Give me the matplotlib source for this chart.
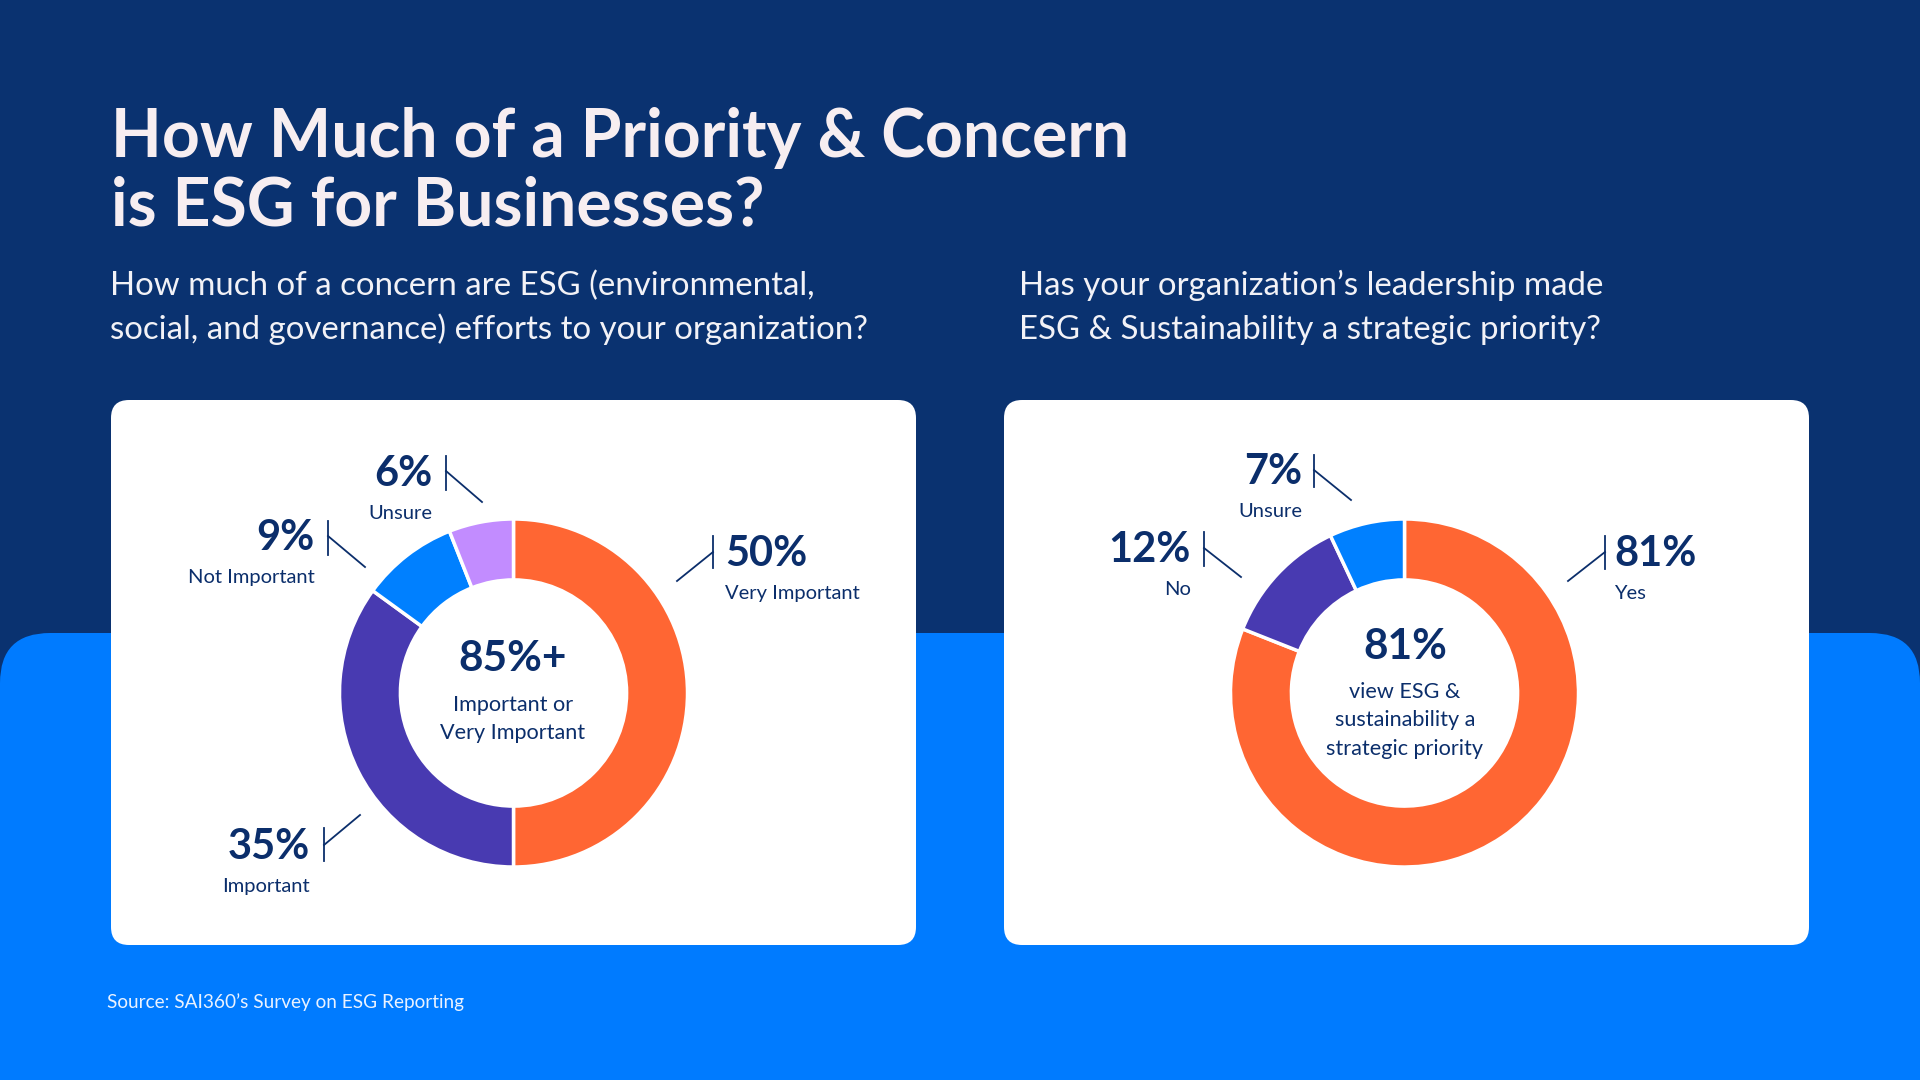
import matplotlib.pyplot as plt
from matplotlib.patches import FancyBboxPatch

plt.rcParams['font.family'] = ['Lato', 'DejaVu Sans']

# Data
concern_labels = ['Very Important', 'Important', 'Not Important', 'Unsure']
concern_values = [50, 35, 9, 6]
priority_labels = ['Yes', 'No', 'Unsure']
priority_values = [81, 12, 7]

title_lines = ['How Much of a Priority & Concern', 'is ESG for Businesses?']
q1_lines = ['How much of a concern are ESG (environmental,',
            'social, and governance) efforts to your organization?']
q2_lines = ['Has your organization’s leadership made',
            'ESG & Sustainability a strategic priority?']
center1_lines = ['Important or', 'Very Important']
center2_lines = ['view ESG &', 'sustainability a', 'strategic priority']
source_text = 'Source: SAI360’s Survey on ESG Reporting'

# Styles
NAVY_BG = '#0A3270'
BLUE_BG = '#007BFF'
TEXT = '#0B2E6B'
TITLE_C = '#F7EEF1'
concern_colors = ['#FF6633', '#483AB1', '#0080FF', '#C28CFF']
priority_colors = ['#FF6633', '#483AB1', '#0080FF']

# label layout (pixels): text x, pct baseline, align, bar x, bar top, bar bottom, join y, end x, end y
concern_layout = [
    (725, 566, 'left', 713, 536, 568, 552, 677, 581),
    (310, 859, 'right', 324, 828, 861, 845, 360, 815),
    (315, 550, 'right', 328, 521, 555, 536, 365, 567),
    (432, 486, 'right', 446, 456, 490, 471, 482, 502),
]
priority_layout = [
    (1614, 566, 'left', 1605, 536, 569, 552, 1568, 581),
    (1191, 562, 'right', 1204, 532, 566, 548, 1241, 577),
    (1302, 484, 'right', 1314, 455, 487, 470, 1351, 500),
]

W, H = 1920, 1080
fig = plt.figure(figsize=(19.2, 10.8), dpi=100, facecolor=NAVY_BG)
bg = fig.add_axes([0, 0, 1, 1])
bg.set_xlim(0, W)
bg.set_ylim(H, 0)
bg.axis('off')

# background band and cards
bg.add_patch(FancyBboxPatch((0, 633), W, 600, boxstyle='round,pad=0,rounding_size=50',
                            fc=BLUE_BG, ec='none'))
for x0 in (111, 1004):
    bg.add_patch(FancyBboxPatch((x0, 400), 805, 545, boxstyle='round,pad=0,rounding_size=18',
                                fc='white', ec='none'))

# titles
for i, line in enumerate(title_lines):
    bg.text(111, 157 + i * 69, line, color=TITLE_C, fontsize=47.5, fontweight='bold',
            va='baseline', ha='left')
for i, line in enumerate(q1_lines):
    bg.text(110, 295 + i * 44, line, color='#F2F2F7', fontsize=23.8, va='baseline', ha='left')
for i, line in enumerate(q2_lines):
    bg.text(1019, 295 + i * 44, line, color='#F2F2F7', fontsize=23.8, va='baseline', ha='left')
bg.text(107, 1008, source_text, color='#EAF2FF', fontsize=13.7, va='baseline', ha='left')


def donut(cx, cy, r, values, colors):
    ax = fig.add_axes([(cx - r) / W, 1 - (cy + r) / H, 2 * r / W, 2 * r / H])
    ax.pie(values, colors=colors, startangle=90, counterclock=False, radius=1,
           wedgeprops=dict(width=0.35, edgecolor='white', linewidth=2.5))
    ax.set_xlim(-1, 1)
    ax.set_ylim(-1, 1)
    ax.axis('off')
    return ax


def slice_labels(labels, values, layout):
    for lab, val, lay in zip(labels, values, layout):
        tx, ty, ha, bx, b0, b1, jy, ex, ey = lay
        bg.text(tx, ty, f'{val}%', color=TEXT, fontsize=30, fontweight='bold',
                ha=ha, va='baseline')
        bg.text(tx, ty + 33, lab, color=TEXT, fontsize=14.5, ha=ha, va='baseline')
        bg.plot([bx, bx], [b0, b1], color=TEXT, lw=1.3)
        bg.plot([bx, ex], [jy, ey], color=TEXT, lw=1.3)


donut(513.5, 693, 174, concern_values, concern_colors)
donut(1404.5, 693, 174, priority_values, priority_colors)
slice_labels(concern_labels, concern_values, concern_layout)
slice_labels(priority_labels, priority_values, priority_layout)

# centre texts
bg.text(513, 671, f'{concern_values[0] + concern_values[1]}%+', color=TEXT, fontsize=30.5,
        fontweight='bold', ha='center', va='baseline')
for i, line in enumerate(center1_lines):
    bg.text(513, 711 + i * 28, line, color=TEXT, fontsize=15.6, ha='center', va='baseline')
bg.text(1405, 659, f'{priority_values[0]}%', color=TEXT, fontsize=30.5,
        fontweight='bold', ha='center', va='baseline')
for i, line in enumerate(center2_lines):
    bg.text(1405, 698 + i * 28.5, line, color=TEXT, fontsize=15.6, ha='center', va='baseline')

fig.savefig('out.png', dpi=100, facecolor=NAVY_BG)
